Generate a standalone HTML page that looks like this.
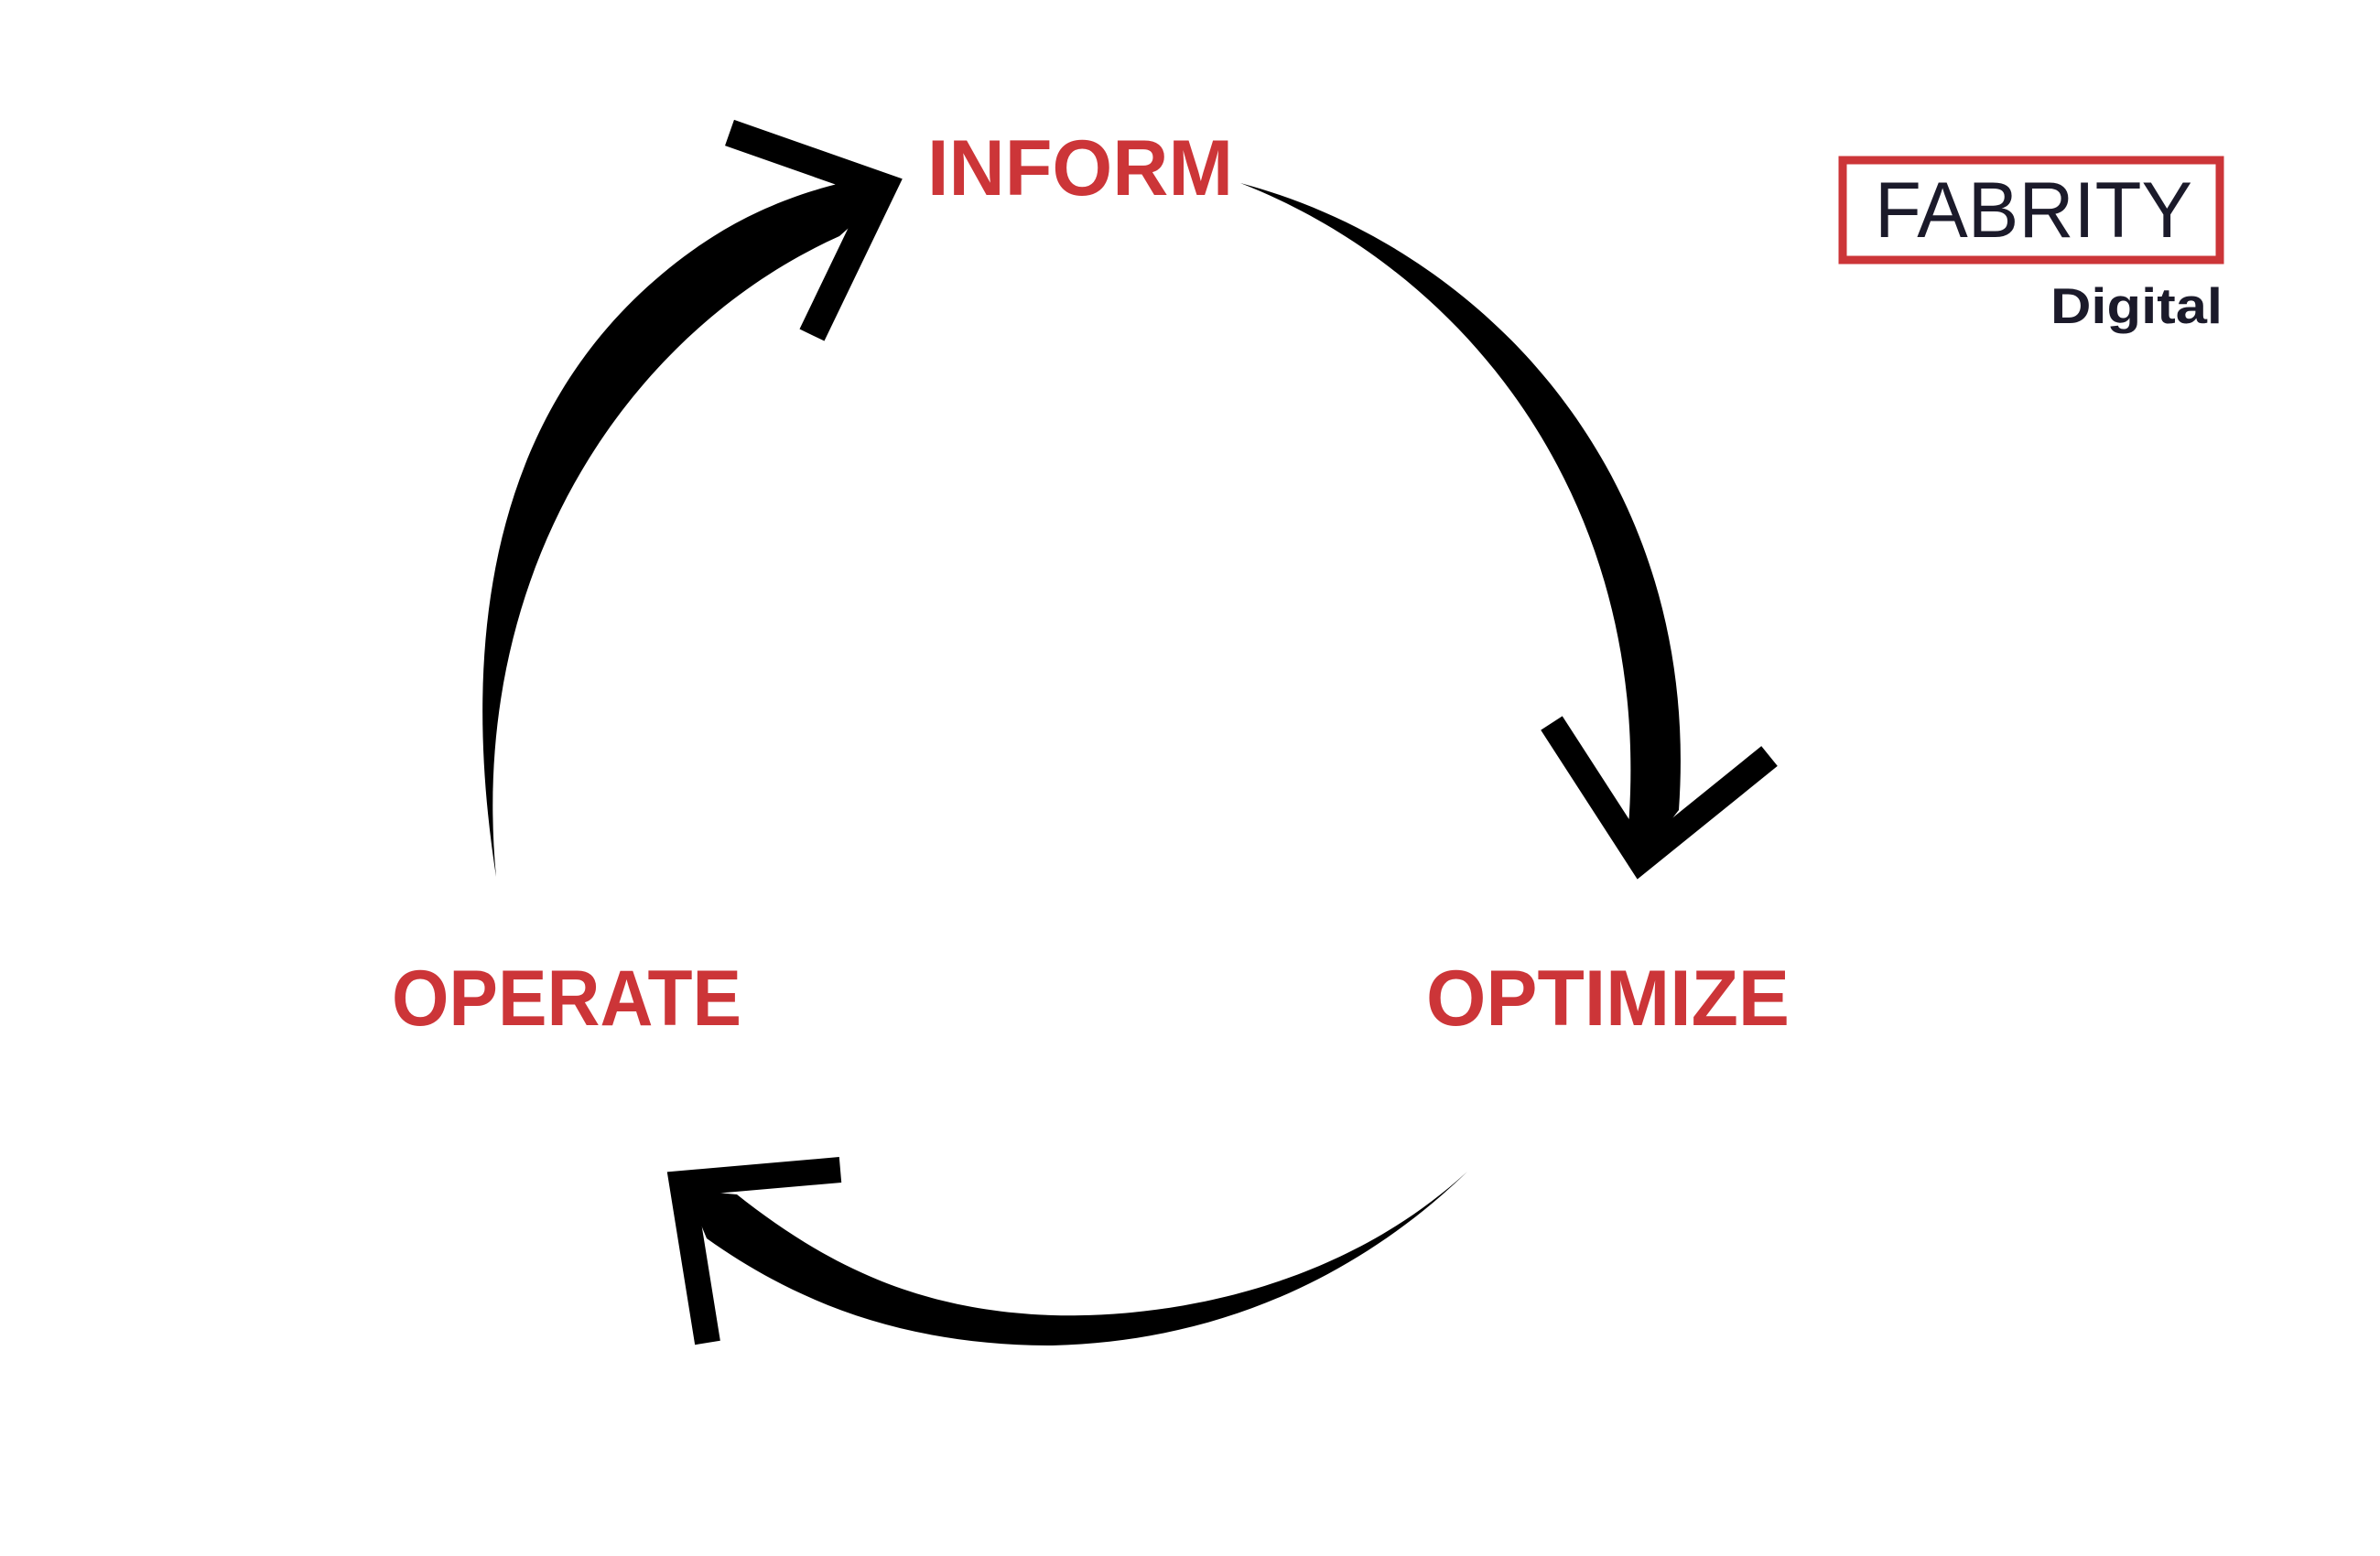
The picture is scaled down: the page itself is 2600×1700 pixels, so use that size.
<!DOCTYPE html>
<html><head><meta charset="utf-8"><style>
html,body{margin:0;padding:0;background:#fff;}
svg{display:block;}
</style></head><body>
<svg width="2600" height="1700" viewBox="0 0 2600 1700" xmlns="http://www.w3.org/2000/svg">
<rect width="2600" height="1700" fill="#fff"/>
<!-- top-left arc -->
<path d="M542,958 C505,720 530,480 700,320 C780,245 860,210 955,192 L962,218 L917,258 C690,360 510,620 542,958 Z" fill="#000"/>
<polyline points="797,145 965,204 887,366" fill="none" stroke="#000" stroke-width="30" stroke-linejoin="miter" stroke-miterlimit="10"/>
<!-- right arc -->
<path d="M1355,200 C1620,270 1860,520 1834,885 L1795,935 L1778,915 C1810,560 1610,300 1355,200 Z" fill="#000"/>
<polyline points="1695,790 1792,940 1933,826" fill="none" stroke="#000" stroke-width="28" stroke-linejoin="miter" stroke-miterlimit="10"/>
<!-- bottom arc -->
<path d="M1603,1280 C1450,1420 1250,1440 1150,1437 C1000,1432 900,1380 805,1305 L750,1300 L772,1353 C880,1430 1000,1470 1150,1470 C1350,1465 1500,1380 1603,1280 Z" fill="#000"/>
<polyline points="918,1278 745,1293 773,1467" fill="none" stroke="#000" stroke-width="28" stroke-linejoin="miter" stroke-miterlimit="10"/>
<!-- labels -->
<g font-family="Liberation Sans, sans-serif" font-weight="bold" font-size="86" fill="#cc3538">
<text x="1013" y="213" textLength="334" lengthAdjust="spacingAndGlyphs">INFORM</text>
<text x="428" y="1120" textLength="382" lengthAdjust="spacingAndGlyphs">OPERATE</text>
<text x="1558" y="1120" textLength="397" lengthAdjust="spacingAndGlyphs">OPTIMIZE</text>
</g>
<!-- logo -->
<rect x="2013" y="175" width="412" height="109" fill="none" stroke="#cc3538" stroke-width="9"/>
<text x="2048" y="259" font-family="Liberation Sans, sans-serif" font-size="86" fill="#1b1a2a" textLength="347" lengthAdjust="spacingAndGlyphs">FABRITY</text>
<text x="2240" y="353" font-family="Liberation Sans, sans-serif" font-weight="bold" font-size="55" fill="#1b1a2a" textLength="188" lengthAdjust="spacingAndGlyphs">Digital</text>
</svg>
</body></html>
